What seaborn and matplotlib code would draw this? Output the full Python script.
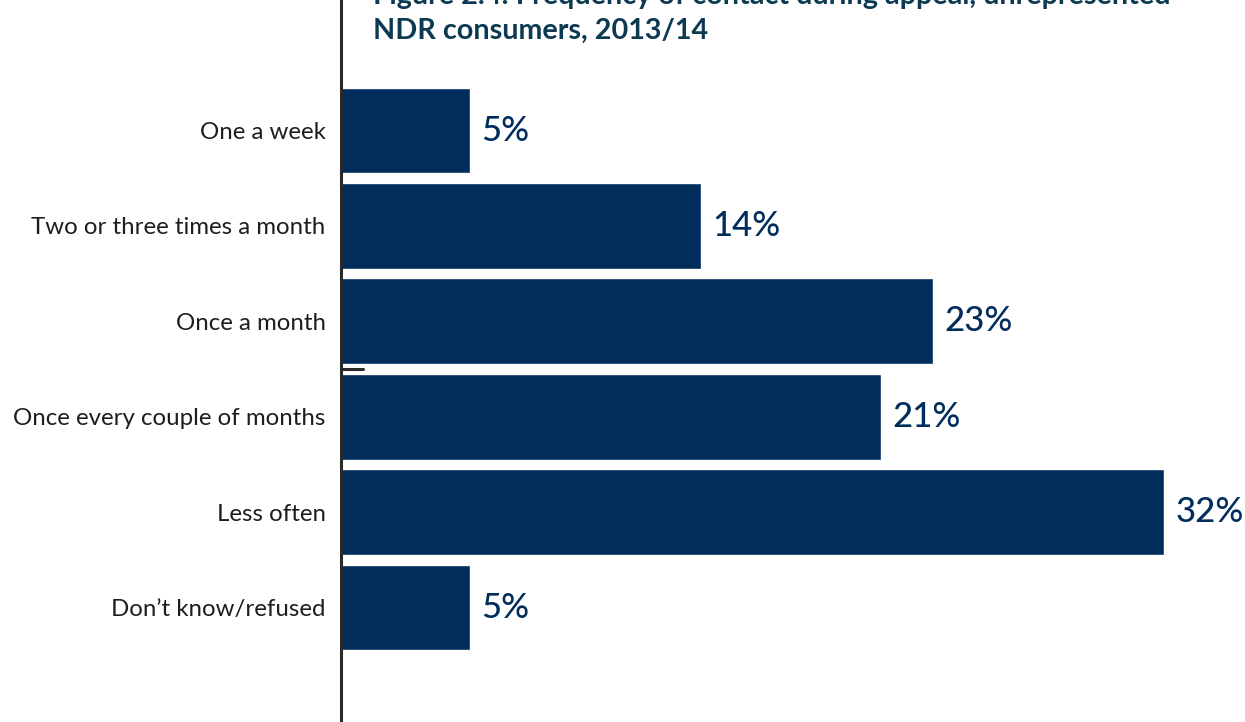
import matplotlib
matplotlib.use("Agg")
import matplotlib.pyplot as plt
import seaborn as sns
import pandas as pd

categories = ["One a week", "Two or three times a month", "Once a month",
              "Once every couple of months", "Less often", "Don\u2019t know/refused"]
values = [5, 14, 23, 21, 32, 5]
value_labels = ["5%", "14%", "23%", "21%", "32%", "5%"]
title_lines = ["Figure 2.4: Frequency of contact during appeal, unrepresented",
               "NDR consumers, 2013/14"]

BAR = "#002d5c"
TITLE = "#0b3a52"
TEXT = "#1e1e1e"

sns.set_theme(style="white")
plt.rcParams["font.family"] = ["Lato", "DejaVu Sans"]

df = pd.DataFrame({"category": categories, "value": values})

fig = plt.figure(figsize=(12.45, 7.22), dpi=100)
ax = fig.add_axes([341 / 1245, 0, (1245 - 341) / 1245, 1])

sns.barplot(data=df, y="category", x="value", orient="h", color=BAR,
            saturation=1, width=0.9, ax=ax, order=categories)

ax.set_xlim(0, 904 / 25.72)
ax.set_ylim(6.2, -1.368)
ax.set_xlabel("")
ax.set_ylabel("")
ax.set_xticks([])
ax.tick_params(axis="y", length=0, pad=11, labelsize=17.3, labelcolor=TEXT)
for lab in ax.get_yticklabels():
    lab.set_y(lab.get_position()[1])
    lab.set_va("center_baseline")
for s in ["top", "right", "bottom"]:
    ax.spines[s].set_visible(False)
ax.spines["left"].set_color("#2a2a2a")
ax.spines["left"].set_linewidth(2.2)

# short marker line on the axis between the third and fourth bars
ax.plot([0, 0.85], [2.5, 2.5], color="#2a2a2a", lw=2.2, clip_on=False)

for i, (v, lab) in enumerate(zip(values, value_labels)):
    ax.text(v + 0.45, i, lab, va="center", ha="left", fontsize=25,
            color=BAR, fontweight="medium")

fig.text(373 / 1245, 1 - 4 / 722, title_lines[0], ha="left", va="baseline",
         fontsize=20.7, fontweight="bold", color=TITLE)
fig.text(373 / 1245, 1 - 39 / 722, title_lines[1], ha="left", va="baseline",
         fontsize=20.7, fontweight="bold", color=TITLE)

fig.savefig("out.png", dpi=100)
